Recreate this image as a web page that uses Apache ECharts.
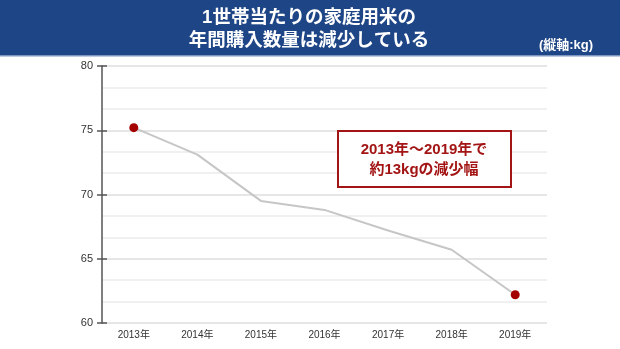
<!DOCTYPE html>
<html>
<head>
<meta charset="utf-8">
<script src="https://cdn.jsdelivr.net/npm/echarts@6/dist/echarts.min.js"></script>
<style>
  html, body { margin: 0; padding: 0; background: #fff; }
  #chart { width: 620px; height: 349px; }
</style>
</head>
<body>
<div id="chart"></div>
<script>
// Annual household rice purchases per household (kg)
const years = ['2013年', '2014年', '2015年', '2016年', '2017年', '2018年', '2019年'];
const purchaseKg = [75.2, 73.1, 69.5, 68.8, 67.2, 65.7, 62.2];
const yTicks = { min: 60, max: 80, interval: 5 };
const titleLines = ['1世帯当たりの家庭用米の', '年間購入数量は減少している'];
const unitNote = '(縦軸:kg)';
const noteLines = ['2013年～2019年で', '約13kgの減少幅'];

const FONT = '"Liberation Sans", "Noto Sans CJK JP", sans-serif';
const lastIdx = purchaseKg.length - 1;

// only the first and last years get a marker
const seriesData = purchaseKg.map((v, i) => ({
  value: v,
  symbolSize: (i === 0 || i === lastIdx) ? 9 : 0
}));

const chart = echarts.init(document.getElementById('chart'), null, { renderer: 'canvas' });

const yBase = {
  type: 'value',
  min: yTicks.min,
  max: yTicks.max,
  interval: yTicks.interval
};

chart.setOption({
  animation: false,
  backgroundColor: '#ffffff',
  grid: { left: 102, right: 73, top: 66, bottom: 26 },
  xAxis: {
    type: 'category',
    data: years,
    boundaryGap: true,
    axisLine: { show: false },
    axisTick: { show: false },
    axisLabel: { color: '#333', fontSize: 10, fontFamily: FONT, margin: 7 }
  },
  yAxis: [
    Object.assign({}, yBase, {
      axisLine: { show: true, lineStyle: { color: '#555', width: 1.5 } },
      axisTick: { show: true, length: 5, lineStyle: { color: '#555', width: 1.5 } },
      axisLabel: { color: '#333', fontSize: 11, fontFamily: FONT, margin: 9 },
      splitLine: { show: true, lineStyle: { color: '#dedede', width: 1.5 } },
      minorTick: { show: false, splitNumber: 3 },
      minorSplitLine: { show: true, lineStyle: { color: '#ececec', width: 1.5 } }
    }),
    // inner half of the crossing tick marks
    Object.assign({}, yBase, {
      position: 'left',
      axisLine: { show: false },
      axisTick: { show: true, inside: true, length: 5, lineStyle: { color: '#555', width: 1.5 } },
      axisLabel: { show: false },
      splitLine: { show: false }
    })
  ],
  series: [{
    type: 'line',
    data: seriesData,
    symbol: 'circle',
    showAllSymbol: true,
    lineStyle: { color: '#c6c6c6', width: 2 },
    itemStyle: { color: '#a50000' },
    z: 3
  }],
  graphic: [
    {
      type: 'rect',
      shape: { x: 0, y: 0, width: 620, height: 55 },
      style: { fill: '#1e4585' },
      z: 10
    },
    {
      type: 'rect',
      shape: { x: 0, y: 55, width: 620, height: 1.5 },
      style: { fill: '#7e95bf' },
      z: 10
    },
    {
      type: 'text',
      x: 309, y: 18,
      style: {
        text: titleLines[0], fill: '#fff', font: 'bold 18.5px ' + FONT,
        textAlign: 'center', textVerticalAlign: 'middle'
      },
      z: 11
    },
    {
      type: 'text',
      x: 309, y: 41,
      style: {
        text: titleLines[1], fill: '#fff', font: 'bold 18.5px ' + FONT,
        textAlign: 'center', textVerticalAlign: 'middle'
      },
      z: 11
    },
    {
      type: 'text',
      x: 566, y: 45,
      style: {
        text: unitNote, fill: '#fff', font: 'bold 13px ' + FONT,
        textAlign: 'center', textVerticalAlign: 'middle'
      },
      z: 11
    },
    {
      type: 'rect',
      shape: { x: 338, y: 131, width: 173, height: 56 },
      style: { fill: '#fff', stroke: '#a31515', lineWidth: 2 },
      z: 10
    },
    {
      type: 'text',
      x: 424, y: 150,
      style: {
        text: noteLines[0], fill: '#a31515', font: 'bold 15px ' + FONT,
        textAlign: 'center', textVerticalAlign: 'middle'
      },
      z: 11
    },
    {
      type: 'text',
      x: 424, y: 170,
      style: {
        text: noteLines[1], fill: '#a31515', font: 'bold 15px ' + FONT,
        textAlign: 'center', textVerticalAlign: 'middle'
      },
      z: 11
    }
  ]
});
</script>
</body>
</html>
